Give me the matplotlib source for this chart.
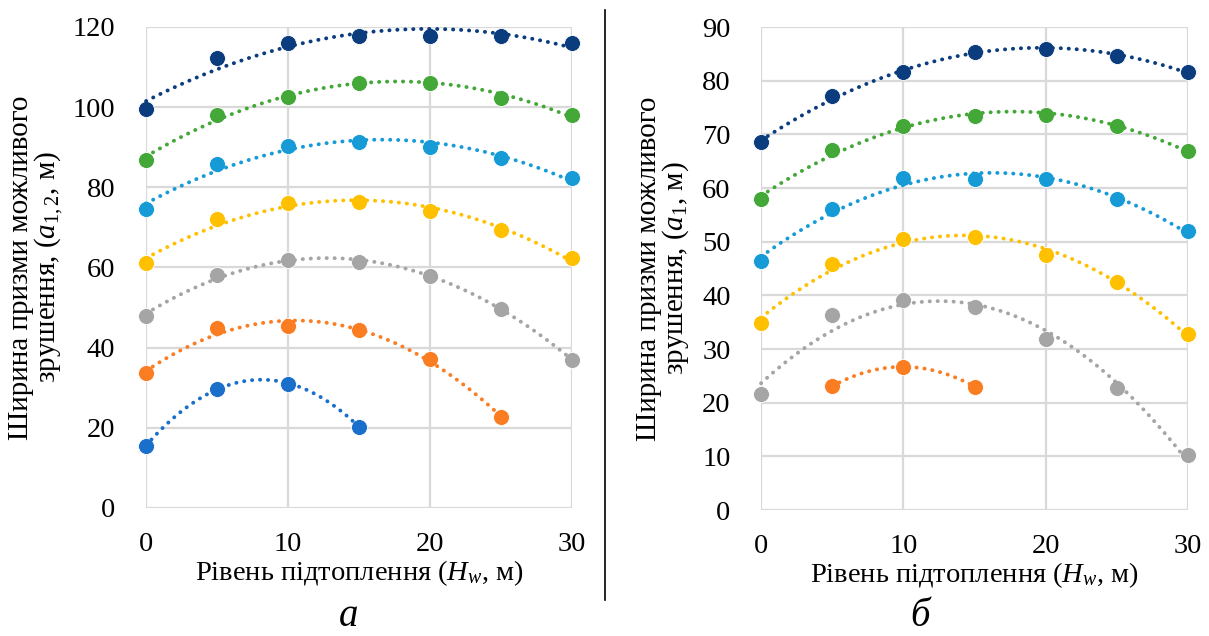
# -*- coding: utf-8 -*-
"""
Ширина призми можливого зрушення від рівня підтоплення
"""
import numpy as np
import matplotlib.pyplot as plt
from matplotlib.lines import Line2D

plt.rcParams['font.family'] = ['Liberation Serif', 'DejaVu Serif']
plt.rcParams['mathtext.fontset'] = 'custom'
plt.rcParams['mathtext.rm'] = 'Liberation Serif'
plt.rcParams['mathtext.it'] = 'Liberation Serif:italic'

# рівень підтоплення, м
hw = [0, 5, 10, 15, 20, 25, 30]

# панель а (a_1,2)
a_navy = [99.5, 112.2, 116.1, 117.8, 117.8, 117.8, 115.9]
a_green = [86.9, 98.1, 102.6, 106.0, 106.0, 102.4, 98.1]
a_lblue = [74.7, 85.7, 90.3, 91.3, 90.1, 87.3, 82.3]
a_yellow = [61.1, 72.0, 76.1, 76.3, 74.1, 69.3, 62.3]
a_gray = [48.0, 58.1, 61.8, 61.3, 57.8, 49.7, 37.0]
a_orange = [33.7, 44.8, 45.3, 44.5, 37.1, 22.6]
a_blue = [15.5, 29.8, 30.9, 20.3]

# панель б (a_1)
b_navy = [68.5, 77.2, 81.7, 85.4, 85.9, 84.6, 81.7]
b_green = [57.9, 67.1, 71.5, 73.5, 73.6, 71.6, 67.0]
b_lblue = [46.5, 56.1, 61.8, 61.7, 61.7, 57.9, 52.0]
b_yellow = [34.9, 45.9, 50.6, 50.8, 47.5, 42.5, 32.8]
b_gray = [21.6, 36.3, 39.1, 37.9, 31.9, 22.8, 10.2]
b_orange_x = [5, 10, 15]
b_orange = [23.1, 26.7, 23.0]

navy = "#0b3d7e"
green = "#43a838"
lblue = "#179bd7"
yellow = "#ffc000"
gray = "#a5a5a5"
orange = "#fb7d22"
blue = "#1a6fca"

fig = plt.figure(figsize=(12.09, 6.36), dpi=100)
ax1 = fig.add_axes([0.1208, 0.2013, 0.3524, 0.7563])
ax2 = fig.add_axes([0.6295, 0.1980, 0.3532, 0.7594])


#функція для точок і поліноміального тренду (як в Excel)
def seria(ax, x, y, col):
    x = np.array(x, dtype=float)
    y = np.array(y, dtype=float)
    k = np.polyfit(x, y, 2)
    xx = np.linspace(x.min(), x.max(), 300)
    ax.plot(x, y, "o", color=col, markersize=11.5, markeredgecolor="white",
            markeredgewidth=0.6, zorder=3, clip_on=False)
    ax.plot(xx, np.polyval(k, xx), color=col, lw=2.8, linestyle=(0, (0.05, 2.0)),
            dash_capstyle="round", zorder=4, clip_on=False)


seria(ax1, hw, a_navy, navy)
seria(ax1, hw, a_green, green)
seria(ax1, hw, a_lblue, lblue)
seria(ax1, hw, a_yellow, yellow)
seria(ax1, hw, a_gray, gray)
seria(ax1, hw[:6], a_orange, orange)
seria(ax1, hw[:4], a_blue, blue)

seria(ax2, hw, b_navy, navy)
seria(ax2, hw, b_green, green)
seria(ax2, hw, b_lblue, lblue)
seria(ax2, hw, b_yellow, yellow)
seria(ax2, hw, b_gray, gray)
seria(ax2, b_orange_x, b_orange, orange)

ax1.set_ylim(0, 120)
ax1.set_yticks(range(0, 121, 20))
ax2.set_ylim(0, 90)
ax2.set_yticks(range(0, 91, 10))

for ax in (ax1, ax2):
    ax.set_xlim(0, 30)
    ax.set_xticks([0, 10, 20, 30])
    ax.grid(True, color="#d9d9d9", lw=1.6)
    ax.set_axisbelow(True)
    for s in ax.spines.values():
        s.set_visible(False)
    ax.tick_params(length=0, labelsize=20.5, colors="black")
    ax.tick_params(axis="y", pad=22)
    ax.tick_params(axis="x", pad=17)
    ax.set_xlabel(r"Рівень підтоплення ($H_w$, м)", fontsize=20.5, labelpad=1)

ax1.set_ylabel("Ширина призми можливого\n" + r"зрушення, ($a_{\mathit{1,2}}$, м)",
               fontsize=21, linespacing=0.92, labelpad=6)
ax2.set_ylabel("Ширина призми можливого\n" + r"зрушення, ($a_{\mathit{1}}$, м)",
               fontsize=21, linespacing=0.92, labelpad=8)

#підписи панелей
fig.text(0.288, 0.016, "а", fontsize=28, style="italic", ha="center")
fig.text(0.761, 0.016, "б", fontsize=28, style="italic", ha="center")

#вертикальна лінія між панелями
fig.add_artist(Line2D([0.5004, 0.5004], [0.057, 0.985], color="black", lw=1.2))

fig.savefig("out.png", dpi=100)
